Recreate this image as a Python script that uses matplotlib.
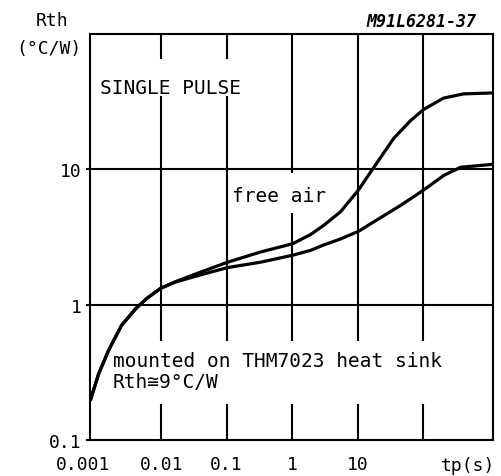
import matplotlib
matplotlib.use("Agg")
import matplotlib.pyplot as plt
from matplotlib.patches import Rectangle
from matplotlib.transforms import ScaledTranslation

plt.rcParams['font.family'] = ['DejaVu Sans Mono', 'DejaVu Sans']

# pulse duration tp (s) and thermal resistance Rth (°C/W)
t_free = [0.00084, 0.00111, 0.00158, 0.00249, 0.00408, 0.00601, 0.0098, 0.0166,
          0.040, 0.1035, 0.33, 1.02, 1.92, 3.03, 5.50, 10.3, 16.9, 35.5, 64.4,
          102, 206, 415, 1190]
r_free = [0.20, 0.308, 0.461, 0.704, 0.932, 1.11, 1.32, 1.48,
          1.74, 2.06, 2.45, 2.82, 3.30, 3.85, 4.86, 7.03, 10.0, 16.9, 22.9,
          27.7, 33.6, 36.1, 36.7]

t_sink = [0.00084, 0.00111, 0.00158, 0.00249, 0.00408, 0.00601, 0.0098, 0.0166,
          0.040, 0.1035, 0.33, 1.02, 1.92, 3.03, 5.50, 10.3, 17.5, 45.3,
          102, 206, 374, 1190]
r_sink = [0.20, 0.308, 0.461, 0.704, 0.932, 1.11, 1.32, 1.47,
          1.66, 1.88, 2.06, 2.32, 2.52, 2.76, 3.06, 3.48, 4.08, 5.41,
          7.03, 9.0, 10.36, 10.9]

x_grid = [0.01, 0.1, 1, 10, 100]
y_grid = [1, 10]
x_ticks = [0.001, 0.01, 0.1, 1, 10]
x_labels = ['0.001', '0.01', '0.1', '1', '10']
y_ticks = [0.1, 1, 10]
y_labels = ['0.1', '1', '10']

fig = plt.figure(figsize=(5.02, 4.77), dpi=100)
ax = fig.add_axes([90 / 502, 36 / 477, 403 / 502, 406 / 477])
ax.set_xscale('log')
ax.set_yscale('log')
ax.set_xlim(8.2e-4, 1.17e3)
ax.set_ylim(0.1, 100)

for x in x_grid:
    ax.axvline(x, color='black', lw=1.5, zorder=1)
for y in y_grid:
    ax.axhline(y, color='black', lw=1.5, zorder=1)

# white gaps in the grid behind the labels
for x0, y0, w, h in [(0.0124, 0.847, 0.447, 0.091),
                     (0.347, 0.559, 0.286, 0.099),
                     (0.0124, 0.0887, 0.976, 0.155)]:
    ax.add_patch(Rectangle((x0, y0), w, h, transform=ax.transAxes,
                           fc='white', ec='none', zorder=1.5))

ax.plot(t_free, r_free, color='black', lw=2.3, zorder=3)
ax.plot(t_sink, r_sink, color='black', lw=2.3, zorder=3)

for s in ax.spines.values():
    s.set_linewidth(1.5)

ax.minorticks_off()
ax.set_xticks(x_ticks)
ax.set_xticklabels(x_labels)
ax.set_yticks(y_ticks)
ax.set_yticklabels(y_labels)
ax.tick_params(axis='x', length=0, pad=11, labelsize=13)
ax.tick_params(axis='y', length=3, width=1.5, pad=3, labelsize=13)
first = ax.get_xticklabels()[0]
first.set_transform(first.get_transform() + ScaledTranslation(-0.13, 0, fig.dpi_scale_trans))

ax.text(0.025, 0.869, 'SINGLE PULSE', transform=ax.transAxes, fontsize=14,
        ha='left', va='center', zorder=4)
ax.text(0.352, 0.603, 'free air', transform=ax.transAxes, fontsize=14,
        ha='left', va='center', zorder=4)
ax.text(0.057, 0.195, 'mounted on THM7023 heat sink', transform=ax.transAxes,
        fontsize=14, ha='left', va='center', zorder=4)
ax.text(0.057, 0.145, 'Rth≅9°C/W', transform=ax.transAxes,
        fontsize=14, ha='left', va='center', zorder=4)

fig.text(52 / 502, 1 - 21 / 477, 'Rth', fontsize=13, ha='center', va='center')
fig.text(49 / 502, 1 - 49 / 477, '(°C/W)', fontsize=13, ha='center', va='center')
fig.text(421 / 502, 1 - 22 / 477, 'M91L6281-37', fontsize=12, style='italic',
         weight='bold', ha='center', va='center')
fig.text(468 / 502, 1 - 466 / 477, 'tp(s)', fontsize=13, ha='center', va='center')

fig.savefig('out.png', dpi=100)
